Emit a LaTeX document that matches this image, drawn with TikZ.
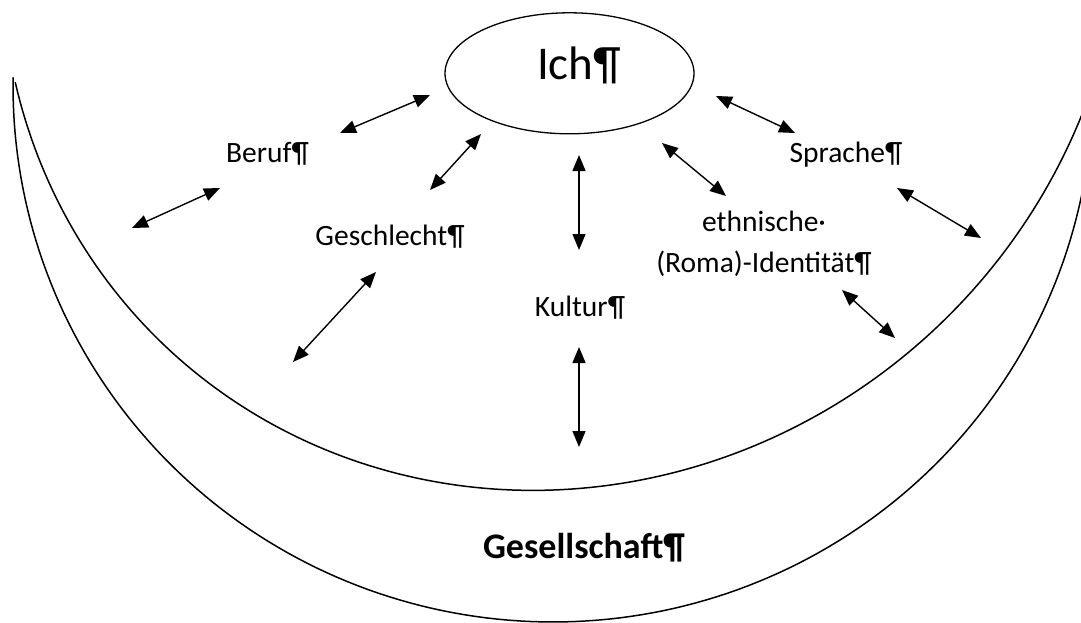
\documentclass[tikz,border=0pt]{standalone}
\usepackage{fontspec}
\setmainfont{Carlito}
\usetikzlibrary{shapes.geometric,arrows.meta}
\begin{document}
\begin{tikzpicture}[x=1pt,y=-1pt,
  curve/.style={line width=1.5pt, line join=round, line cap=round},
  dbl/.style={line width=1.4pt, {Triangle[length=16pt,width=13pt]}-{Triangle[length=16pt,width=13pt]}},
  lbl/.style={font=\fontsize{29.5}{41}\selectfont, inner sep=0pt, anchor=base, text=black},
]
\useasboundingbox[fill=white] (0,0) rectangle (1081,623);

% crescent curves
\begin{scope}
\clip (0,0) rectangle (1081,623);
% inner curve
\draw[curve] plot[domain=164.2:15, samples=150, variable=\t]
  ({562.6+560.4*cos(\t)-29.7*sin(\t)}, {-70+560.4*sin(\t)});
% outer curve
\draw[curve] plot[domain=180.9:5, samples=150, variable=\t]
  ({553+540*cos(\t)}, {86+536*sin(\t)});
\end{scope}

% central ellipse
\node[draw, ellipse, line width=1.3pt, minimum width=249pt, minimum height=121pt, inner sep=0pt] (ich) at (569.5,73.3) {};
\node[lbl, font=\fontsize{47}{56}\selectfont] (ichtext) at (579,80) {Ich¶};

% labels
\node[lbl] (beruf) at (267.5,162) {Beruf¶};
\node[lbl] (geschlecht) at (390,245) {Geschlecht¶};
\node[lbl] (kultur) at (580,316) {Kultur¶};
\node[lbl] (sprache) at (846,162) {Sprache¶};
\node[lbl, anchor=center, align=center] (ethn) at (764,244) {ethnische·\\(Roma)-Identität¶};
\node[lbl, font=\bfseries\fontsize{36}{42}\selectfont] (gesellschaft) at (584,558) {Gesellschaft¶};

% arrow end points
\coordinate (a1) at (340,133); \coordinate (b1) at (430,95);
\coordinate (a2) at (132,228); \coordinate (b2) at (220,188);
\coordinate (a3) at (430,190); \coordinate (b3) at (481,134);
\coordinate (a4) at (293,362); \coordinate (b4) at (376,272);
\coordinate (a5) at (579,155); \coordinate (b5) at (579,250);
\coordinate (a6) at (579,347); \coordinate (b6) at (579,447);
\coordinate (a7) at (662,143); \coordinate (b7) at (726,196);
\coordinate (a8) at (842,290); \coordinate (b8) at (895,338);
\coordinate (a9) at (716,96);  \coordinate (b9) at (795,133);
\coordinate (a10) at (897,188); \coordinate (b10) at (981,238);

\foreach \i in {1,...,10} {\draw[dbl] (a\i) -- (b\i);}
\end{tikzpicture}
\end{document}
